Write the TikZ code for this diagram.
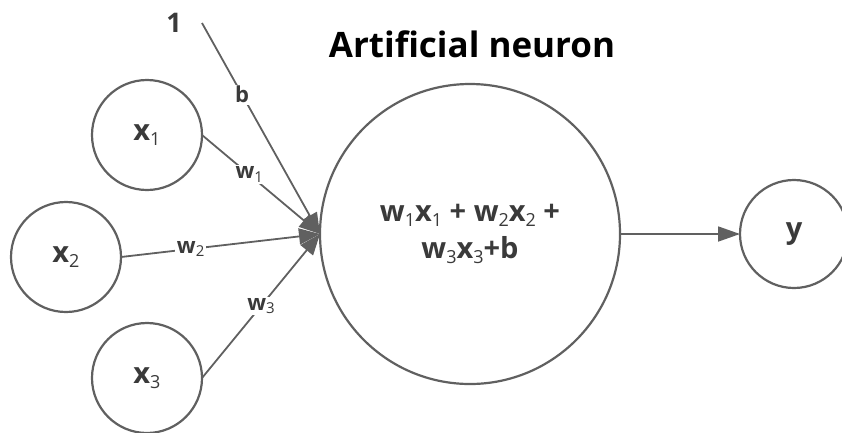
\documentclass[tikz,border=0pt]{standalone}
\usepackage{fontspec}
\setmainfont{Open Sans}
\usetikzlibrary{arrows.meta}
\definecolor{strokegray}{HTML}{606060}
\definecolor{textgray}{HTML}{3A3A3A}
\newcommand\lowsub[2]{\raisebox{-0.17em}{\mdseries\fontsize{#1}{#1}\selectfont #2}}
\tikzset{
  circ/.style={circle, draw=strokegray, line width=2.2pt, inner sep=0pt, outer sep=0pt, text=textgray},
  inp/.style={circ, minimum size=110pt, font=\bfseries\fontsize{29}{29}\selectfont},
  conn/.style={draw=strokegray, line width=1.8pt, -{Triangle[length=21pt,width=16pt]}},
  lbl/.style={fill=white, inner sep=1.5pt, text=textgray, font=\bfseries\fontsize{22}{22}\selectfont},
}
\begin{document}
\begin{tikzpicture}[x=1pt, y=-1pt]
\useasboundingbox (0,0) rectangle (842,432);
% title
\node[anchor=base, font=\fontsize{35}{35}\selectfont\bfseries, text=black] (title) at (472,57) {Artificial neuron};
% inputs
\node[inp] (x1) at (147,135) {x\lowsub{18}{1}};
\node[inp] (x2) at (66,257) {x\lowsub{18}{2}};
\node[inp] (x3) at (147,378) {x\lowsub{18}{3}};
% bias
\node[anchor=base, text=textgray, font=\bfseries\fontsize{27}{27}\selectfont] (one) at (174,32) {1};
\coordinate (bsrc) at (202,23);
% neuron
\node[circ, minimum size=300pt, align=center, font=\bfseries\fontsize{29}{37}\selectfont] (neuron) at (470,234)
  {w\lowsub{18}{1}x\lowsub{18}{1} + w\lowsub{18}{2}x\lowsub{18}{2} +\\ w\lowsub{18}{3}x\lowsub{18}{3}+b};
% output
\node[circ, minimum size=108pt, font=\bfseries\fontsize{29}{29}\selectfont] (y) at (794,234) {y};
% connectors
\draw[conn] (bsrc) -- node[lbl, pos=0.34] {b} (neuron.west);
\draw[conn] (x1.east) -- node[lbl, pos=0.4] {w\lowsub{15}{1}} (neuron.west);
\draw[conn] (x2.east) -- node[lbl, pos=0.35] {w\lowsub{15}{2}} (neuron.west);
\draw[conn] (x3.east) -- node[lbl, pos=0.5] {w\lowsub{15}{3}} (neuron.west);
\draw[conn, -{Triangle[length=22pt,width=15pt]}] (neuron.east) -- (y.west);
\end{tikzpicture}
\end{document}
